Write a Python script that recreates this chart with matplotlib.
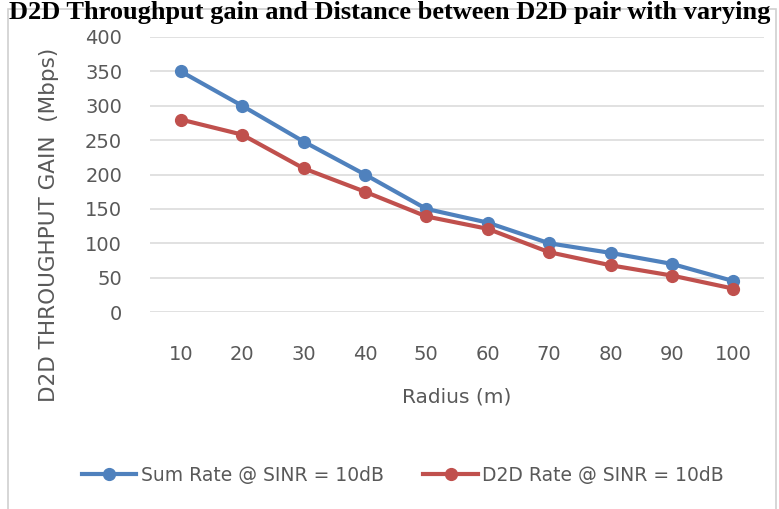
import matplotlib.pyplot as plt
from matplotlib.patches import Rectangle

radius = [10, 20, 30, 40, 50, 60, 70, 80, 90, 100]
sum_rate = [350, 300, 248, 200, 150, 130, 100, 86, 70, 45]
d2d_rate = [280, 258, 209, 175, 139, 121, 87, 68, 53, 34]
yticks = [0, 50, 100, 150, 200, 250, 300, 350, 400]

blue = '#4F81BD'
red = '#C0504D'
txt = '#595959'

fig = plt.figure(figsize=(7.79, 5.09), dpi=100)

# chart area border
fig.patches.append(Rectangle((8 / 779, -0.05), 768 / 779, 1 - 9 / 509 + 0.05,
                             transform=fig.transFigure, fill=False,
                             edgecolor='#D0D0D0', linewidth=1.2, zorder=0))

# caption line from the page above the chart
fig.text(0.5, 1 - 0.5 / 509, 'D2D Throughput gain and Distance between D2D pair with varying',
         ha='center', va='top', fontsize=19, fontweight='bold',
         family='Liberation Serif', color='black', zorder=5)

ax = fig.add_axes([150 / 779, 1 - 312 / 509, 614 / 779, 275 / 509])
x = list(range(len(radius)))
ax.plot(x, sum_rate, color=blue, lw=3, marker='o', ms=8.5, label='Sum Rate @ SINR = 10dB')
ax.plot(x, d2d_rate, color=red, lw=3, marker='o', ms=8.5, label='D2D Rate @ SINR = 10dB')

ax.set_xlim(-0.5, len(radius) - 0.5)
ax.set_ylim(0, 400)
ax.set_yticks(yticks)
ax.set_xticks(x)
ax.set_xticklabels([str(r) for r in radius])
ax.grid(axis='y', color='#DCDCDC', lw=1.2)
ax.set_axisbelow(True)
for s in ax.spines.values():
    s.set_visible(False)
ax.tick_params(length=0, labelsize=14, labelcolor=txt)
ax.tick_params(axis='y', pad=20)
ax.tick_params(axis='x', pad=24)

ax.set_xlabel('Radius (m)', fontsize=14.5, color=txt, labelpad=17)
ax.set_ylabel('D2D THROUGHPUT GAIN  (Mbps)', fontsize=15.5, color=txt)
ax.yaxis.set_label_coords((59 - 150) / 614, (312 - 225) / 275)

leg = fig.legend(loc='center', bbox_to_anchor=(403 / 779, 1 - 475 / 509), ncol=2,
                 frameon=False, fontsize=13.5, handlelength=2.9, handletextpad=0.25,
                 columnspacing=2.1)
for t in leg.get_texts():
    t.set_color(txt)

fig.savefig('out.png', dpi=100)
